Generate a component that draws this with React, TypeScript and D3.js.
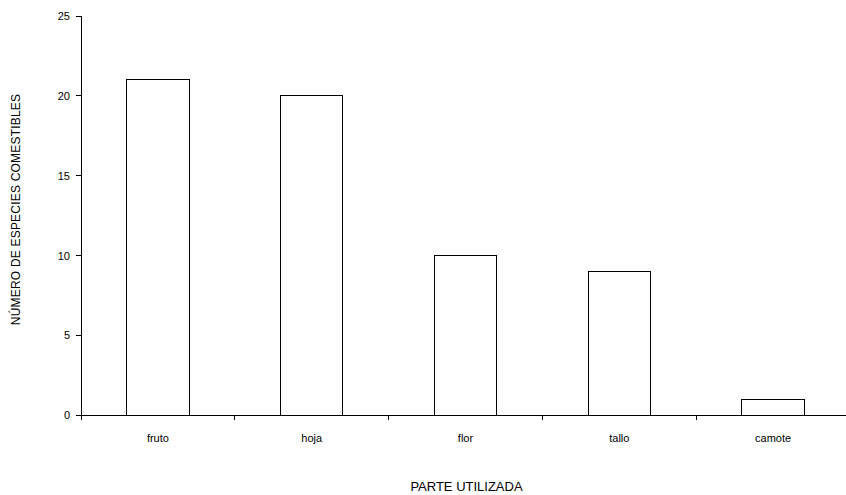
import React from "react";
import * as d3 from "d3";

const categories = ["fruto", "hoja", "flor", "tallo", "camote"];
const values = [21, 20, 10, 9, 1];
const yTicks = [0, 5, 10, 15, 20, 25];
const yTitle = "NÚMERO DE ESPECIES COMESTIBLES";
const xTitle = "PARTE UTILIZADA";

export default function App() {
  const W = 846, H = 495;
  const x0 = 81, x1 = 81 + 5 * 153.8;
  const x = d3.scaleBand<string>().domain(categories).range([x0, x1]).paddingInner(0.594).paddingOuter(0.297);
  const y = d3.scaleLinear().domain([0, 25]).range([415.5, 16]);
  const step = (x1 - x0) / categories.length;
  const font = "Liberation Sans, Arial, sans-serif";
  return (
    <svg width={W} height={H} style={{ position: "absolute", left: 0, top: 0, background: "#fff" }} fontFamily={font}>
      {categories.map((c, i) => (
        <rect key={c} x={x(c)!} y={y(values[i])} width={x.bandwidth()} height={y(0) - y(values[i])}
          fill="#fff" stroke="#000" strokeWidth={1} shapeRendering="crispEdges" />
      ))}
      <line x1={x0} x2={x0} y1={y(25)} y2={y(0)} stroke="#000" shapeRendering="crispEdges" />
      {yTicks.map(t => (
        <g key={t}>
          <line x1={x0 - 5} x2={x0} y1={y(t)} y2={y(t)} stroke="#000" shapeRendering="crispEdges" />
          <text x={70} y={y(t)} dy="0.35em" textAnchor="end" fontSize={11}>{t}</text>
        </g>
      ))}
      <line x1={x0} x2={x1} y1={y(0)} y2={y(0)} stroke="#000" shapeRendering="crispEdges" />
      {d3.range(categories.length + 1).map(i => (
        <line key={i} x1={x0 + i * step} x2={x0 + i * step} y1={y(0)} y2={y(0) + 4} stroke="#000" shapeRendering="crispEdges" />
      ))}
      {categories.map(c => (
        <text key={c} x={x(c)! + x.bandwidth() / 2} y={442} textAnchor="middle" fontSize={11}>{c}</text>
      ))}
      <text x={466.5} y={491} textAnchor="middle" fontSize={13}>{xTitle}</text>
      <text transform="translate(20,209.5) rotate(-90)" textAnchor="middle" fontSize={12} letterSpacing={0.2}>{yTitle}</text>
    </svg>
  );
}
